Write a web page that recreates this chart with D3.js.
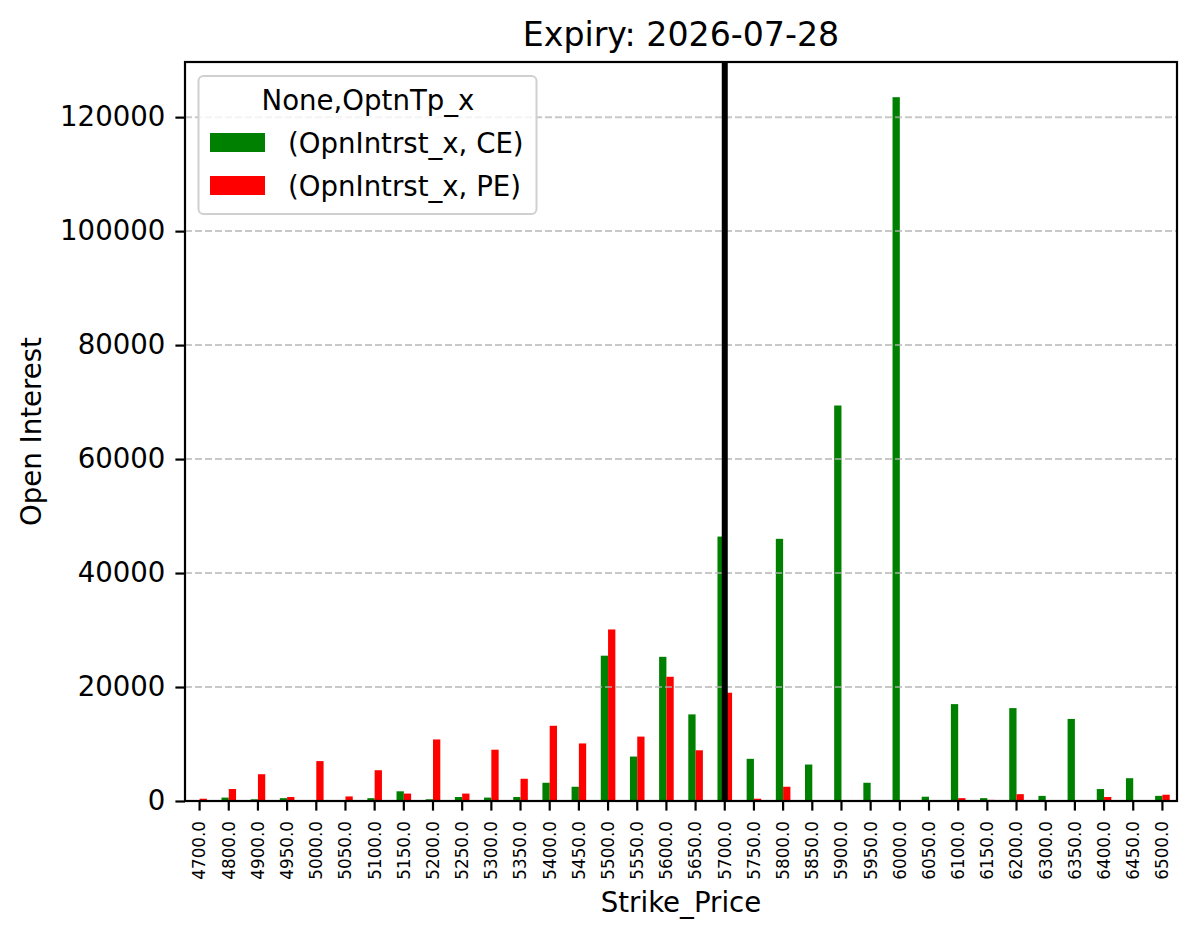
<!DOCTYPE html>
<html>
<head>
<meta charset="utf-8">
<script src="https://cdn.jsdelivr.net/npm/d3@7"></script>
<style>
  body { margin: 0; background: #fff; }
  text { font-family: "DejaVu Sans", sans-serif; fill: #000; }
</style>
</head>
<body>
<svg id="chart" width="1196" height="939"></svg>
<script>
// strike prices (x categories)
const strikes = [4700, 4800, 4900, 4950, 5000, 5050, 5100, 5150, 5200, 5250,
  5300, 5350, 5400, 5450, 5500, 5550, 5600, 5650, 5700, 5750,
  5800, 5850, 5900, 5950, 6000, 6050, 6100, 6150, 6200, 6300,
  6350, 6400, 6450, 6500]
// open interest, calls
const ceOI = [100, 600, 300, 500, 0, 0, 500, 1700, 300, 700,
  600, 700, 3200, 2500, 25500, 7800, 25300, 15200, 46400, 7400,
  46000, 6400, 69400, 3200, 123500, 750, 17000, 500, 16300, 900,
  14400, 2100, 4000, 900]
// open interest, puts
const peOI = [400, 2100, 4700, 700, 7000, 800, 5400, 1300, 10800, 1300,
  9000, 3900, 13200, 10100, 30100, 11300, 21800, 8900, 19000, 400,
  2500, 0, 0, 0, 0, 0, 500, 200, 1200, 0,
  0, 700, 0, 1100]
const yTicks = [0, 20000, 40000, 60000, 80000, 100000, 120000]
const spotStrike = 5700
const seriesNames = ["(OpnIntrst_x, CE)", "(OpnIntrst_x, PE)"]
const seriesColors = ["green", "red"]

const plotL = 185, plotR = 1177, plotT = 62, plotB = 801

const svg = d3.select("#chart")

const x = d3.scaleBand()
  .domain(strikes)
  .range([plotL, plotR])
  .padding(0)

const ymax = d3.max(ceOI.concat(peOI)) * 1.05
const y = d3.scaleLinear()
  .domain([0, ymax])
  .range([plotB, plotT])

const bw = x.bandwidth() * 0.25

// bars
const rows = strikes.map((s, i) => ({ s, ce: ceOI[i], pe: peOI[i] }))

svg.append("g")
  .selectAll("rect")
  .data(rows)
  .join("rect")
  .attr("x", d => x(d.s) + x.bandwidth() / 2 - bw)
  .attr("y", d => y(d.ce))
  .attr("width", bw)
  .attr("height", d => plotB - y(d.ce))
  .attr("fill", seriesColors[0])

svg.append("g")
  .selectAll("rect")
  .data(rows)
  .join("rect")
  .attr("x", d => x(d.s) + x.bandwidth() / 2)
  .attr("y", d => y(d.pe))
  .attr("width", bw)
  .attr("height", d => plotB - y(d.pe))
  .attr("fill", seriesColors[1])

// dashed grid drawn over the bars, like matplotlib
svg.append("g")
  .selectAll("line")
  .data(yTicks.slice(1))
  .join("line")
  .attr("x1", plotL)
  .attr("x2", plotR)
  .attr("y1", d => y(d))
  .attr("y2", d => y(d))
  .attr("stroke", "#b0b0b0")
  .attr("stroke-opacity", 0.7)
  .attr("stroke-width", 2)
  .attr("stroke-dasharray", "7,3")

// spot line
svg.append("line")
  .attr("x1", x(spotStrike) + x.bandwidth() / 2)
  .attr("x2", x(spotStrike) + x.bandwidth() / 2)
  .attr("y1", plotT)
  .attr("y2", plotB)
  .attr("stroke", "#000")
  .attr("stroke-width", 6)

// axes
const xAxis = d3.axisBottom(x)
  .tickSize(9.6)
  .tickPadding(10)
  .tickFormat(d => d.toFixed(1))

const gx = svg.append("g")
  .attr("transform", `translate(0,${plotB})`)
  .call(xAxis)
gx.select(".domain").remove()
gx.selectAll(".tick line").attr("stroke", "#000").attr("stroke-width", 2.2)
gx.selectAll(".tick text")
  .attr("font-size", 16.8)
  .attr("font-family", "DejaVu Sans")
  .attr("text-anchor", "end")
  .attr("transform", "rotate(-90)")
  .attr("x", -20)
  .attr("y", 0)
  .attr("dy", "0.35em")

const yAxis = d3.axisLeft(y)
  .tickValues(yTicks)
  .tickSize(9.6)
  .tickPadding(10)
  .tickFormat(d3.format("d"))

const gy = svg.append("g")
  .attr("transform", `translate(${plotL},0)`)
  .call(yAxis)
gy.select(".domain").remove()
gy.selectAll(".tick line").attr("stroke", "#000").attr("stroke-width", 2.2)
gy.selectAll(".tick text")
  .attr("font-size", 27.6)
  .attr("font-family", "DejaVu Sans")

// frame
svg.append("rect")
  .attr("x", plotL)
  .attr("y", plotT)
  .attr("width", plotR - plotL)
  .attr("height", plotB - plotT)
  .attr("fill", "none")
  .attr("stroke", "#000")
  .attr("stroke-width", 2.2)

// labels
svg.append("text")
  .attr("x", (plotL + plotR) / 2)
  .attr("y", 46)
  .attr("text-anchor", "middle")
  .attr("font-size", 33.2)
  .text("Expiry: 2026-07-28")

svg.append("text")
  .attr("x", (plotL + plotR) / 2)
  .attr("y", 912)
  .attr("text-anchor", "middle")
  .attr("font-size", 27.6)
  .text("Strike_Price")

svg.append("text")
  .attr("transform", `translate(41,${(plotT + plotB) / 2}) rotate(-90)`)
  .attr("text-anchor", "middle")
  .attr("font-size", 27.6)
  .text("Open Interest")

// legend
const lg = svg.append("g")
lg.append("rect")
  .attr("x", 198.5)
  .attr("y", 76)
  .attr("width", 338)
  .attr("height", 138)
  .attr("rx", 5)
  .attr("fill", "#fff")
  .attr("fill-opacity", 0.8)
  .attr("stroke", "#d0d0d0")
  .attr("stroke-width", 2)

lg.append("text")
  .attr("x", 368)
  .attr("y", 110)
  .attr("text-anchor", "middle")
  .attr("font-size", 27.6)
  .text("None,OptnTp_x")

seriesNames.forEach((name, i) => {
  lg.append("rect")
    .attr("x", 210)
    .attr("y", 133 + i * 43)
    .attr("width", 55)
    .attr("height", 19)
    .attr("fill", seriesColors[i])
  lg.append("text")
    .attr("x", 288)
    .attr("y", 153 + i * 43)
    .attr("font-size", 27.6)
    .text(name)
})
</script>
</body>
</html>
